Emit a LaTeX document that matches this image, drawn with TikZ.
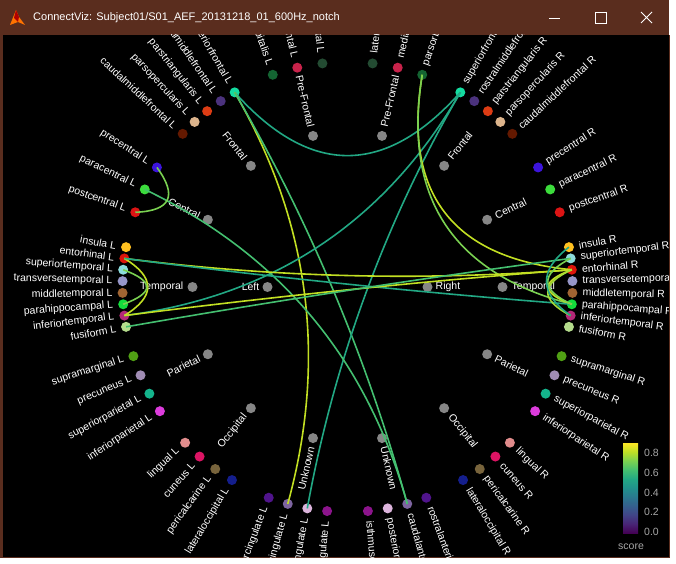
\documentclass[tikz,border=0pt]{standalone}
\usepackage{fontspec}
\setmainfont{Liberation Sans}
\usetikzlibrary{calc}
% score colours (viridis)
\definecolor{titlebg}{HTML}{5A2D1E}
\definecolor{sc9}{HTML}{C2DF23}
\definecolor{sc8}{HTML}{A5DB36}
\definecolor{sc7}{HTML}{7AD151}
\definecolor{sc6}{HTML}{44BF70}
\definecolor{sc5}{HTML}{22A884}
\definecolor{sc4}{HTML}{21918C}
\definecolor{v0}{HTML}{440154}\definecolor{v1}{HTML}{482475}
\definecolor{v2}{HTML}{414487}\definecolor{v3}{HTML}{355F8D}
\definecolor{v4}{HTML}{2A788E}\definecolor{v5}{HTML}{21918C}
\definecolor{v6}{HTML}{22A884}\definecolor{v7}{HTML}{44BF70}
\definecolor{v8}{HTML}{7AD151}\definecolor{v9}{HTML}{BDDF26}
\definecolor{v10}{HTML}{FDE725}
\pgfdeclareverticalshading{viridis}{100bp}{color(0bp)=(v0); color(25bp)=(v0);
  color(30bp)=(v1); color(35bp)=(v2); color(40bp)=(v3); color(45bp)=(v4);
  color(50bp)=(v5); color(55bp)=(v6); color(60bp)=(v7); color(65bp)=(v8);
  color(70bp)=(v9); color(75bp)=(v10); color(100bp)=(v10)}
\tikzset{
  dot/.style={circle, inner sep=0pt, minimum size=10pt},
  lobe/.style={dot, fill=gray!95},
  lbl/.style={text=white, inner sep=0pt, font=\fontsize{10.5}{12}\selectfont},
  link/.style={line width=1.6pt},
}
% link from #1 to #2, pulled toward the centre by #3, colour #4
\newcommand\link[4]{%
  \path ($(#1.center)!.5!(#2.center)$) coordinate (m) ($(m)!#3!(O)$) coordinate (q);
  \draw[link,#4] (#1.center) .. controls ($(#1.center)!2/3!(q)$) and ($(#2.center)!2/3!(q)$) .. (#2.center);}
\begin{document}
\begin{tikzpicture}[x=1pt,y=1pt]
\useasboundingbox (0,0) rectangle (676,563);
\fill[white] (0,0) rectangle (676,563);
% window
\fill[titlebg] (0,528) rectangle (669,563);
\fill[titlebg] (0,5) rectangle (669.5,528);
\fill[black] (2.5,6) rectangle (668.5,528);
\node[text=white, anchor=west, inner sep=0pt, font=\fontsize{11}{13}\selectfont] (title) at (33,545.5) {ConnectViz: Subject01/S01\_AEF\_20131218\_01\_600Hz\_notch};
\fill[orange!90!red] (10,538) -- (16,553) -- (19,546) -- (25,538) -- (18,541) -- cycle;
\fill[red!70!black] (16,553) -- (19,546) -- (18,541) -- (14,545) -- cycle;
\draw[white, line width=0.8pt] (549,545) -- (560,545);
\draw[white, line width=0.8pt] (595,540) rectangle (606,551);
\draw[white, line width=0.8pt] (641,540) -- (652,551) (641,551) -- (652,540);
\begin{scope}
\clip (2.5,6) rectangle (668.5,528);
\begin{scope}[shift={(347.5,276)}]
\coordinate (O) at (0,0);
% hemispheres
\node[lobe] (hL) at (180:80) {};
\node[lbl, anchor=east] (hL-t) at (180:88) {Left};
\node[lobe] (hR) at (0:80) {};
\node[lbl, anchor=west] (hR-t) at (0:88) {Right};
% lobes
\foreach \n/\a/\t in {pf/77.14/Pre-Frontal, fr/51.43/Frontal, ce/25.71/Central,
    te/0/Temporal, pa/-25.71/Parietal, oc/-51.43/Occipital, un/-77.14/Unknown}{
  \node[lobe] (\n R) at (\a:155) {};
  \node[lbl, rotate=\a, anchor=west] (\n R-t) at (\a:164) {\t};
  \pgfmathsetmacro\b{180-\a}
  \node[lobe] (\n L) at (\b:155) {};
  \node[lbl, rotate=-\a, anchor=east] (\n L-t) at (\b:164) {\t};
}
% regions, right hemisphere
\foreach \n/\a/\c/\t in {
    lorbR/83.6/234B32/lateralorbitofrontal R, morbR/77.1/C8234B/medialorbitofrontal R,
    porbR/70.6/146432/parsorbitalis R, sfR/59.9/14DCA0/superiorfrontal R,
    rmfR/55.7/4B327D/rostralmiddlefrontal R, ptriR/51.4/DC3C14/parstriangularis R,
    popeR/47.2/DCB48C/parsopercularis R, cmfR/42.9/641900/caudalmiddlefrontal R,
    precR/32.1/3C14DC/precentral R, paracR/25.7/3CDC3C/paracentral R,
    postcR/19.4/DC1414/postcentral R, insR/10.2/FFC020/insula R,
    stR/7.3/8CDCDC/superiortemporal R, entR/4.4/DC140A/entorhinal R,
    ttR/1.5/9696C8/transversetemporal R, mtR/-1.5/A06432/middletemporal R,
    phR/-4.4/14DC3C/parahippocampal R, itR/-7.3/B42878/inferiortemporal R,
    fusR/-10.2/B4DC8C/fusiform R, smR/-17.9/50A014/supramarginal R,
    pcunR/-23.1/A08CB4/precuneus R, spR/-28.3/14B48C/superiorparietal R,
    ipR/-33.5/DC3CDC/inferiorparietal R, lingR/-43.8/E18C8C/lingual R,
    cunR/-48.9/DC1464/cuneus R, periR/-54.0/78643C/pericalcarine R,
    loR/-59.1/141E8C/lateraloccipital R, racR/-69.5/50148C/rostralanteriorcingulate R,
    cacR/-74.6/7D64A0/caudalanteriorcingulate R, pcR/-79.7/DCB4DC/posteriorcingulate R,
    icR/-84.8/8C148C/isthmuscingulate R}{
  \edef\setc{\noexpand\definecolor{dotc}{HTML}{\c}}\setc
  \node[dot, fill=dotc] (\n) at (\a:225) {};
  \node[lbl, rotate=\a, anchor=west] (\n-t) at (\a:235) {\t};
}
% regions, left hemisphere
\foreach \n/\a/\c/\t in {
    lorbL/83.6/234B32/lateralorbitofrontal L, morbL/77.1/C8234B/medialorbitofrontal L,
    porbL/70.6/146432/parsorbitalis L, sfL/59.9/14DCA0/superiorfrontal L,
    rmfL/55.7/4B327D/rostralmiddlefrontal L, ptriL/51.4/DC3C14/parstriangularis L,
    popeL/47.2/DCB48C/parsopercularis L, cmfL/42.9/641900/caudalmiddlefrontal L,
    precL/32.1/3C14DC/precentral L, paracL/25.7/3CDC3C/paracentral L,
    postcL/19.4/DC1414/postcentral L, insL/10.2/FFC020/insula L,
    entL/7.3/DC140A/entorhinal L, stL/4.4/8CDCDC/superiortemporal L,
    ttL/1.5/9696C8/transversetemporal L, mtL/-1.5/A06432/middletemporal L,
    phL/-4.4/14DC3C/parahippocampal L, itL/-7.3/B42878/inferiortemporal L,
    fusL/-10.2/B4DC8C/fusiform L, smL/-17.9/50A014/supramarginal L,
    pcunL/-23.1/A08CB4/precuneus L, spL/-28.3/14B48C/superiorparietal L,
    ipL/-33.5/DC3CDC/inferiorparietal L, lingL/-43.8/E18C8C/lingual L,
    cunL/-48.9/DC1464/cuneus L, periL/-54.0/78643C/pericalcarine L,
    loL/-59.1/141E8C/lateraloccipital L, racL/-69.5/50148C/rostralanteriorcingulate L,
    cacL/-74.6/7D64A0/caudalanteriorcingulate L, pcL/-79.7/DCB4DC/posteriorcingulate L,
    icL/-84.8/8C148C/isthmuscingulate L}{
  \edef\setc{\noexpand\definecolor{dotc}{HTML}{\c}}\setc
  \pgfmathsetmacro\b{180-\a}
  \node[dot, fill=dotc] (\n) at (\b:225) {};
  \node[lbl, rotate=-\a, anchor=east] (\n-t) at (\b:235) {\t};
}
% links
\link{sfL}{sfR}{0.65}{sc5}
\link{sfL}{cacL}{1}{sc9}
\link{sfL}{cacR}{1}{sc6}
\link{sfR}{pcL}{1}{sc5}
\link{sfR}{itL}{1}{sc5}
\link{paracL}{cacR}{1}{sc6}
\link{precL}{postcL}{0.21}{sc7}
\link{porbR}{entR}{0.7}{sc9}
\link{porbR}{phR}{0.7}{sc7}
\link{entL}{itL}{0.21}{sc9}
\link{stL}{phL}{0.21}{sc7}
\link{entL}{entR}{1}{sc9}
\link{entL}{phR}{1}{sc5}
\link{itL}{entR}{1}{sc9}
\link{fusL}{stR}{0.8}{sc6}
\link{entR}{phR}{0.21}{sc9}
\link{entR}{itR}{0.21}{sc8}
\link{stR}{phR}{0.21}{sc7}
\link{insR}{itR}{0.21}{sc5}
\end{scope}
\end{scope}
% colour bar
\shade[shading=viridis] (623,30) rectangle (638,120);
\foreach \v [count=\i from 0] in {0.0,0.2,0.4,0.6,0.8}{
  \node[text=gray!70, anchor=west, inner sep=0pt, font=\fontsize{10.5}{12}\selectfont] (tick\i) at (644,31+19.75*\i) {\v};
}
\node[text=gray!70, inner sep=0pt, font=\fontsize{10.5}{12}\selectfont] (score) at (631,16) {score};
\end{tikzpicture}
\end{document}
